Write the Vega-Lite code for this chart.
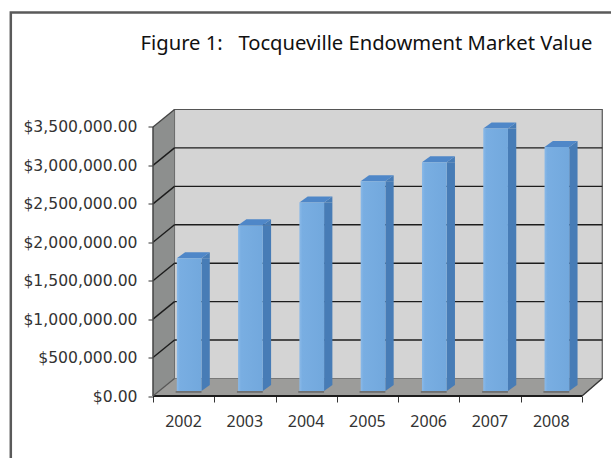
{
  "$schema": "https://vega.github.io/schema/vega-lite/v6.json",
  "width": 450.5,
  "height": 286.5,
  "autosize": "none",
  "padding": {"left": 153, "top": 109.5, "right": 7.5, "bottom": 62},
  "background": "white",
  "view": {"stroke": null},
  "title": {"text": "Figure 1:\u00a0\u00a0\u00a0Tocqueville Endowment Market Value", "anchor": "start", "offset": -43, "dx": 131, "font": "Noto Sans", "fontSize": 20.2, "fontWeight": "normal", "color": "#111"},
  "datasets": {
    "endowment": [
      {"year": 2002, "value": 1727000},
      {"year": 2003, "value": 2156000},
      {"year": 2004, "value": 2451000},
      {"year": 2005, "value": 2729000},
      {"year": 2006, "value": 2976000},
      {"year": 2007, "value": 3414000},
      {"year": 2008, "value": 3175000}
    ],
    "gridValues": [
      {"value": 500000}, {"value": 1000000}, {"value": 1500000}, {"value": 2000000},
      {"value": 2500000}, {"value": 3000000}
    ],
    "sideWall": [
      {"x": 2001.5, "low": 0, "high": 3500000},
      {"x": 2001.85, "low": 227500, "high": 3727500}
    ],
    "floor": [
      {"x": 2001.5, "back": 0, "front": 0},
      {"x": 2001.85, "back": 227500, "front": 0},
      {"x": 2008.5, "back": 227500, "front": 0},
      {"x": 2008.83, "back": 227500, "front": 227500}
    ],
    "single": [{"id": 1}]
  },
  "encoding": {
    "x": {"scale": {"domain": [2001.5, 2008.85], "nice": false, "zero": false, "padding": 0}},
    "y": {"scale": {"domain": [0, 3727500], "nice": false, "zero": false}}
  },
  "layer": [
    {
      "data": {"name": "single"},
      "mark": {"type": "rect", "fillOpacity": 0, "fill": "#ffffff", "stroke": "#5a5a5a", "strokeWidth": 2.5, "clip": false},
      "encoding": {
        "x": {"datum": 1999.18, "type": "quantitative", "axis": {
          "values": [2001.5, 2002.5, 2003.5, 2004.5, 2005.5, 2006.5, 2007.5, 2008.5],
          "title": null, "grid": false, "domain": false, "tickColor": "#333", "tickSize": 6,
          "labelOffset": 30, "labelPadding": 11, "labelFont": "Noto Sans", "labelFontSize": 16, "labelColor": "#333",
          "labelFlush": false, "labelBound": false, "labelOverlap": false,
          "labelExpr": "datum.value < 2008 ? format(datum.value + 0.5, 'd') : ''"
        }},
        "x2": {"datum": 2011},
        "y": {"datum": 4990000, "type": "quantitative", "axis": {
          "values": [0, 500000, 1000000, 1500000, 2000000, 2500000, 3000000, 3500000],
          "format": "$,.2f", "title": null, "grid": false, "domain": false, "tickColor": "#333", "tickSize": 5,
          "labelPadding": 11, "labelFont": "DejaVu Sans", "labelFontSize": 15.6, "labelColor": "#333"
        }},
        "y2": {"datum": -960000}
      }
    },
    {
      "data": {"name": "single"},
      "mark": {"type": "rect", "fill": "#d4d4d4", "stroke": "#555", "strokeWidth": 1.2},
      "encoding": {
        "x": {"datum": 2001.85, "type": "quantitative"},
        "x2": {"datum": 2008.83},
        "y": {"datum": 227500, "type": "quantitative"},
        "y2": {"datum": 3727500}
      }
    },
    {
      "data": {"name": "sideWall"},
      "mark": {"type": "area", "fill": "#8d8f8e", "opacity": 1},
      "encoding": {
        "x": {"field": "x", "type": "quantitative"},
        "y": {"field": "high", "type": "quantitative"},
        "y2": {"field": "low"}
      }
    },
    {
      "data": {"name": "floor"},
      "mark": {"type": "area", "fill": "#9c9c9a", "opacity": 1},
      "encoding": {
        "x": {"field": "x", "type": "quantitative"},
        "y": {"field": "back", "type": "quantitative"},
        "y2": {"field": "front"}
      }
    },
    {
      "data": {"name": "gridValues"},
      "mark": {"type": "rule", "stroke": "#1c1c1c", "strokeWidth": 1.4, "yOffset": -17.5},
      "encoding": {
        "x": {"datum": 2001.85, "type": "quantitative"},
        "x2": {"datum": 2008.83},
        "y": {"field": "value", "type": "quantitative"}
      }
    },
    {
      "data": {"name": "gridValues"},
      "mark": {"type": "point", "shape": "M0 0 L21.5 -17.5", "size": 4, "filled": false, "stroke": "#1c1c1c", "strokeWidth": 1.4, "opacity": 1},
      "encoding": {
        "x": {"datum": 2001.5, "type": "quantitative"},
        "y": {"field": "value", "type": "quantitative"}
      }
    },
    {
      "data": {"name": "single"},
      "mark": {"type": "point", "shape": "M0 0 L21.5 -17.5", "size": 4, "filled": false, "stroke": "#444", "strokeWidth": 1.3, "opacity": 1},
      "encoding": {
        "x": {"datum": 2001.5, "type": "quantitative"},
        "y": {"datum": 3500000, "type": "quantitative"}
      }
    },
    {
      "data": {"name": "single"},
      "mark": {"type": "rule", "stroke": "#444", "strokeWidth": 1.5},
      "encoding": {
        "x": {"datum": 2001.5, "type": "quantitative"},
        "y": {"datum": 0, "type": "quantitative"},
        "y2": {"datum": 3500000}
      }
    },
    {
      "data": {"name": "single"},
      "mark": {"type": "rule", "stroke": "#1c1c1c", "strokeWidth": 1.8},
      "encoding": {
        "x": {"datum": 2001.5, "type": "quantitative"},
        "x2": {"datum": 2008.5},
        "y": {"datum": 0, "type": "quantitative"}
      }
    },
    {
      "data": {"name": "single"},
      "mark": {"type": "point", "shape": "M0 0 L20.2 -17.5", "size": 4, "filled": false, "stroke": "#333", "strokeWidth": 1.4, "opacity": 1},
      "encoding": {
        "x": {"datum": 2008.5, "type": "quantitative"},
        "y": {"datum": 0, "type": "quantitative"}
      }
    },
    {
      "data": {"name": "single"},
      "mark": {"type": "point", "shape": "M0 0 L21.5 -17.5", "size": 4, "filled": false, "stroke": "#555", "strokeWidth": 1.2, "opacity": 1},
      "encoding": {
        "x": {"datum": 2001.5, "type": "quantitative"},
        "y": {"datum": 0, "type": "quantitative"}
      }
    },
    {
      "data": {"name": "endowment"},
      "mark": {"type": "point", "shape": "M-8 -5 L17.85 -5 L17.85 -3.2 L-8 -3.2 Z", "size": 4, "filled": true, "fill": "#6f7070", "strokeWidth": 0, "opacity": 1},
      "encoding": {
        "x": {"field": "year", "type": "quantitative"},
        "y": {"datum": 0, "type": "quantitative"}
      }
    },
    {
      "data": {"name": "endowment"},
      "mark": {"type": "bar", "orient": "vertical", "size": 8.3, "xOffset": 22, "yOffset": -5, "y2Offset": -11, "fill": "#477cb6"},
      "encoding": {
        "x": {"field": "year", "type": "quantitative"},
        "y": {"field": "value", "type": "quantitative"},
        "y2": {"datum": 0}
      }
    },
    {
      "data": {"name": "endowment"},
      "mark": {"type": "point", "shape": "M17.85 -5 L26.15 -11 L17.85 -11 Z", "size": 4, "filled": true, "fill": "#477cb6", "strokeWidth": 0, "opacity": 1},
      "encoding": {
        "x": {"field": "year", "type": "quantitative"},
        "y": {"datum": 0, "type": "quantitative"}
      }
    },
    {
      "data": {"name": "endowment"},
      "mark": {"type": "point", "shape": "M17.85 -5 L26.15 -11 L26.15 -5 Z", "size": 4, "filled": true, "fill": "#477cb6", "strokeWidth": 0, "opacity": 1},
      "encoding": {
        "x": {"field": "year", "type": "quantitative"},
        "y": {"field": "value", "type": "quantitative"}
      }
    },
    {
      "data": {"name": "endowment"},
      "mark": {"type": "point", "shape": "M-6.85 -5 L17.85 -5 L26.15 -11 L1.45 -11 Z", "size": 4, "filled": true, "fill": "#4f87c8", "strokeWidth": 0, "opacity": 1},
      "encoding": {
        "x": {"field": "year", "type": "quantitative"},
        "y": {"field": "value", "type": "quantitative"}
      }
    },
    {
      "data": {"name": "endowment"},
      "mark": {
        "type": "bar", "orient": "vertical", "size": 24.7, "xOffset": 5.5, "yOffset": -5, "y2Offset": -5,
        "fill": {"x1": 0, "x2": 1, "y1": 0, "y2": 0, "gradient": "linear", "stops": [
          {"offset": 0, "color": "#8ab9e8"},
          {"offset": 0.12, "color": "#79aee2"},
          {"offset": 1, "color": "#72a8dd"}
        ]}
      },
      "encoding": {
        "x": {"field": "year", "type": "quantitative"},
        "y": {"field": "value", "type": "quantitative"},
        "y2": {"datum": 0}
      }
    }
  ]
}
